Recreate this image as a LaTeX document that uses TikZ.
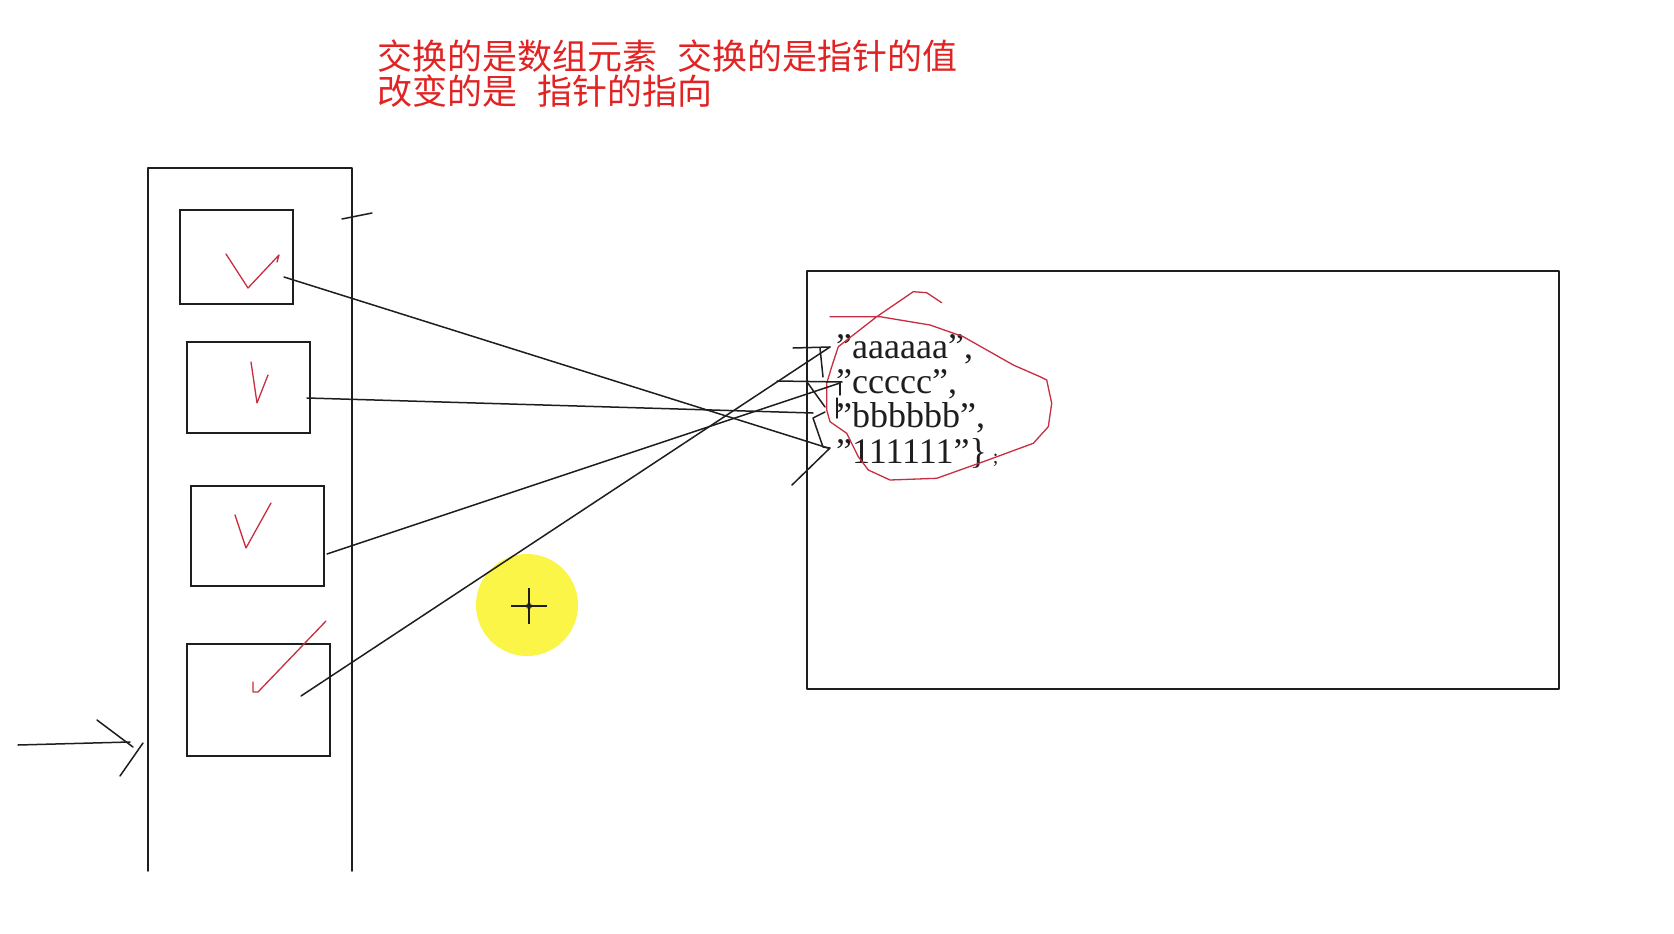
\documentclass[tikz,border=0pt]{standalone}
\usepackage{fontspec}
\setmainfont{Liberation Serif}
\newfontfamily\cjk{Noto Sans CJK SC}
\definecolor{notered}{RGB}{225,35,35}
\definecolor{checkred}{RGB}{200,45,65}
\definecolor{cursoryellow}{RGB}{250,245,70}
\definecolor{ink}{RGB}{30,30,30}
\tikzset{
  pen/.style={draw=ink, line width=1.5pt, line join=round, line cap=round},
  redpen/.style={draw=checkred, line width=1.3pt, line join=round, line cap=round},
  cell/.style={draw=ink, line width=1.5pt, inner sep=0pt, rectangle},
  strline/.style={anchor=base west, inner sep=0pt, text=ink, font=\fontsize{36}{36}\selectfont},
  note/.style={anchor=base west, inner sep=0pt, text=notered, font=\cjk\fontsize{35}{35}\selectfont}
}
\begin{document}
\begin{tikzpicture}[x=1pt,y=-1pt]
\useasboundingbox[fill=white] (0,0) rectangle (1674,934);

% title notes
\node[note] (n1) at (377,70) {交换的是数组元素\hspace{20pt}交换的是指针的值};
\node[note] (n2) at (377,104) {改变的是\hspace{20pt}指针的指向};

% cursor highlight
\fill[cursoryellow] (527,605) circle (51);
\coordinate (cur) at (529,606);
\draw[ink, line width=1.4pt] ([xshift=-18pt]cur) -- ([xshift=18pt]cur);
\draw[ink, line width=1.4pt] ([yshift=-18pt]cur) -- ([yshift=18pt]cur);
\draw[ink, line width=0.8pt] (cur) circle (2.5);

% outer pointer array (open at bottom)
\draw[pen] (148,871) -- (148,168) -- (352,168) -- (352,871);
\draw[pen] (342,219) -- (372,213);

% cells
\node[cell, minimum width=113pt, minimum height=94pt] (b1) at (236.5,257) {};
\node[cell, minimum width=123pt, minimum height=91pt] (b2) at (248.5,387.5) {};
\node[cell, minimum width=133pt, minimum height=100pt] (b3) at (257.5,536) {};
\node[cell, minimum width=143pt, minimum height=112pt] (b4) at (258.5,700) {};

% red check marks
\draw[redpen] (226,254) -- (248,288) -- (279,255) -- (277,262);
\draw[redpen] (251,362) -- (257,403) -- (268,375);
\draw[redpen] (235,515) -- (246,548) -- (271,503);
\draw[redpen] (326,621) -- (258,692) -- (253,692) -- (253,682);

% left arrow
\coordinate (arrtail) at (18,745);
\coordinate (arrhead) at (130,742);
\draw[pen] (arrtail) -- (arrhead);
\draw[pen] (97,720) -- (133,747);
\draw[pen] (143,743) -- (120,776);

% string area
\draw[pen] (807,271) rectangle (1559,689);

\node[strline] (s1) at (836,358) {”aaaaaa”,};
\node[strline] (s2) at (836,393) {”ccccc”,};
\node[strline] (s3) at (836,427) {”bbbbbb”,};
\node[strline] (s4) at (836,463) {”111111”\}\,\fontsize{20}{20}\selectfont;};

% red loop around strings
\draw[redpen] (941.7,302.7) -- (926.7,292.7) -- (913.3,291.7) -- (876.7,316.7)
  -- (838.3,346.7) -- (831.7,366.7) -- (826.7,383.3) -- (826.7,410) -- (830,421.7)
  -- (846.7,433.3) -- (858.3,456.7) -- (868.3,470) -- (890,480) -- (936.7,478.3)
  -- (983.3,461.7) -- (1033.3,443.3) -- (1048.3,426.7) -- (1051.7,403.3)
  -- (1046.7,380) -- (1040,376.7) -- (1013.3,365) -- (963.3,336.7) -- (930,325)
  -- (880,316.7) -- (830,316.7);

% pointer targets
\coordinate (t1) at (828,448);
\coordinate (t2) at (813,413);
\coordinate (t3) at (840,383);
\coordinate (t4) at (830,347);
\coordinate (p1) at (284,277);
\coordinate (p2) at (307,398);
\coordinate (p3) at (327,554);
\coordinate (p4) at (301,696);

\draw[pen] (p1) -- (t1);
\draw[pen] (p2) -- (t2);
\draw[pen] (p3) -- (t3);
\draw[pen] (p4) -- (t4);

% scribbled arrow marks near strings
\draw[pen] (793,348) -- (830,347);
\draw[pen] (820,348) -- (823,377);
\draw[pen] (777,381) -- (842,382);
\draw[pen] (840,382) -- (840,395);
\draw[pen] (837,398) -- (837,418);
\draw[pen] (807,382) -- (825,407);
\draw[pen] (825,412) -- (813,418) -- (823,447) -- (830,448) -- (792,485);
\end{tikzpicture}
\end{document}
